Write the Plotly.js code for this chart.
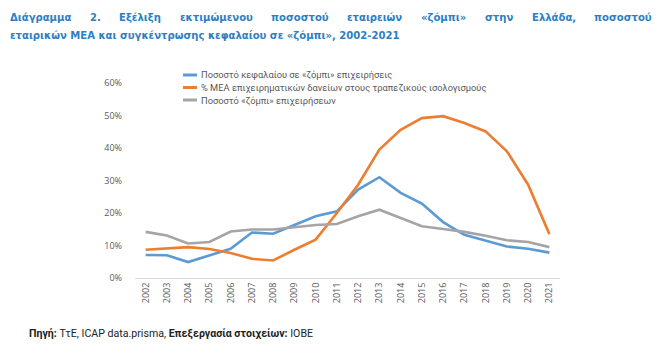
<!DOCTYPE html>
<html><head><meta charset="utf-8">
<script src="https://cdn.plot.ly/plotly-3.0.1.min.js"></script>
<style>body{margin:0;background:#fff}#chart{width:662px;height:350px}</style>
</head><body><div id="chart"></div>
<script>
const years = ['2002','2003','2004','2005','2006','2007','2008','2009','2010','2011','2012','2013','2014','2015','2016','2017','2018','2019','2020','2021'];
const capitalShare = [7.1,7.0,4.9,7.0,9.0,14.0,13.6,16.3,19.0,20.5,27.2,31.0,26.2,22.9,17.2,13.3,11.6,9.7,9.0,7.8];
const nplShare = [8.7,9.2,9.5,8.9,7.7,5.9,5.4,8.7,11.8,20.0,28.7,39.5,45.6,49.2,49.8,47.7,45.1,39.0,28.7,13.5];
const zombieShare = [14.2,13.1,10.6,11.1,14.3,14.9,14.9,15.5,16.3,16.6,19.0,21.0,18.5,15.9,15.1,14.2,13.0,11.6,11.1,9.5];
const seriesNames = ['Ποσοστό κεφαλαίου σε «ζόμπι» επιχειρήσεις','% ΜΕΑ επιχειρηματικών δανείων στους τραπεζικούς ισολογισμούς','Ποσοστό «ζόμπι» επιχειρήσεων'];
const titleLine1 = 'Διάγραμμα 2. Εξέλιξη εκτιμώμενου ποσοστού εταιρειών «ζόμπι» στην Ελλάδα, ποσοστού';
const titleLine2 = 'εταιρικών ΜΕΑ και συγκέντρωσης κεφαλαίου σε «ζόμπι», 2002-2021';
const sourceText = '<b>Πηγή:</b> ΤτΕ, ICAP data.prisma, <b>Επεξεργασία στοιχείων:</b> ΙΟΒΕ';

const colors = ['#5B9BD5','#ED7D31','#A5A5A5'];
const W = 662, H = 350, ML = 135, MR = 102, MT = 83, MB = 72;
const pw = W - ML - MR, ph = H - MT - MB;
const px = x => (x - ML) / pw;
const py = y => (H - MB - y) / ph;

const traces = [capitalShare, nplShare, zombieShare].map((v, i) => ({
  x: years, y: v, type: 'scatter', mode: 'lines', name: seriesNames[i],
  line: {color: colors[i], width: 2.6}, showlegend: false
}));

const TF = 'DejaVu Sans Condensed';
const TS = 11.2;
const titleFont = {family: TF + ', Roboto, sans-serif', size: TS, color: '#2E7EC1'};
const annotations = [];
const shapes = [];
(function(){
  const c = document.createElement('canvas').getContext('2d');
  c.font = 'bold ' + TS + 'px "' + TF + '"';
  const words = titleLine1.split(' ');
  const widths = words.map(w => c.measureText(w).width);
  const x0 = 8, x1 = 650;
  const total = widths.reduce((a,b)=>a+b,0);
  const gap = (x1 - x0 - total) / (words.length - 1);
  let x = x0;
  words.forEach((w, i) => {
    annotations.push({text: '<b>'+w+'</b>', xref:'paper', yref:'paper', x: px(x), y: py(17), xanchor:'left', yanchor:'middle', showarrow:false, font: titleFont});
    x += widths[i] + gap;
  });
})();
annotations.push({text: '<b>'+titleLine2+'</b>', xref:'paper', yref:'paper', x: px(8), y: py(36), xanchor:'left', yanchor:'middle', showarrow:false, font: titleFont});
annotations.push({text: sourceText, xref:'paper', yref:'paper', x: px(27), y: py(333), xanchor:'left', yanchor:'middle', showarrow:false, font:{family:'Roboto, sans-serif', size:10.6, color:'#222'}});

// legend (drawn manually for compact spacing)
seriesNames.forEach((n, i) => {
  const yy = 75 + i * 12.5;
  shapes.push({type:'line', xref:'paper', yref:'paper', x0: px(183), x1: px(197), y0: py(yy), y1: py(yy), line:{color: colors[i], width: 3}});
  annotations.push({text: n, xref:'paper', yref:'paper', x: px(199), y: py(yy), xanchor:'left', yanchor:'middle', showarrow:false, font:{family:'Roboto, sans-serif', size:9.3, color:'#595959'}});
});

const layout = {
  width: W, height: H, margin: {l: ML, r: MR, t: MT, b: MB},
  paper_bgcolor: '#fff', plot_bgcolor: '#fff', showlegend: false,
  font: {family: 'Open Sans, sans-serif', color: '#595959', size: 9},
  xaxis: {type: 'category', range: [-0.5, 19.5], tickangle: -90, showgrid: false, zeroline: false,
          showline: true, linecolor: '#d9d9d9', linewidth: 1, ticks: '', tickfont: {size: 9, color: '#595959'}},
  yaxis: {range: [0, 60], dtick: 10, ticksuffix: '%', showgrid: false, zeroline: false, showline: false,
          ticks: '', tickfont: {size: 9, color: '#595959'}, ticklabelstandoff: 12},
  annotations: annotations, shapes: shapes
};
Plotly.newPlot('chart', traces, layout, {displayModeBar: false, staticPlot: true});
</script></body></html>
